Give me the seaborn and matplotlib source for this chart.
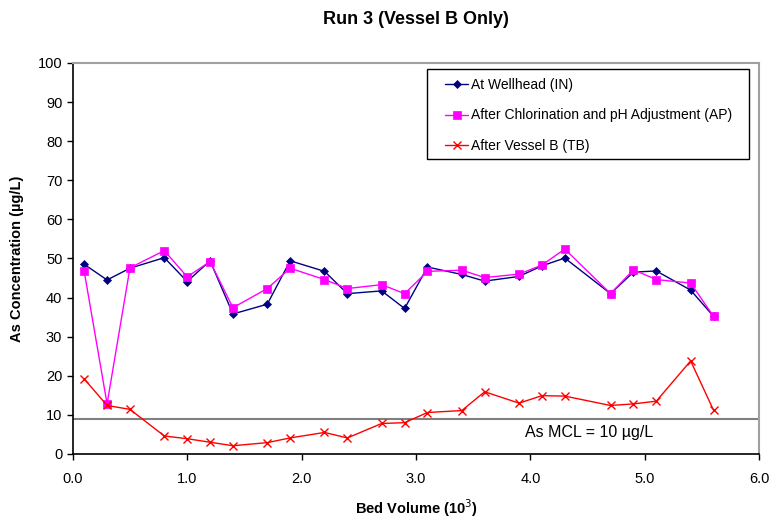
import matplotlib
matplotlib.use("Agg")
import matplotlib.pyplot as plt
from matplotlib.patches import Rectangle
import seaborn as sns
import pandas as pd

# ===================== DATOS =====================

bed_volume = [0.1, 0.3, 0.5, 0.8, 1.0, 1.2, 1.4, 1.7, 1.9, 2.2, 2.4, 2.7,
              2.9, 3.1, 3.4, 3.6, 3.9, 4.1, 4.3, 4.7, 4.9, 5.1, 5.4, 5.6]

wellhead_in = [48.5, 44.5, 47.5, 50.2, 44.1, 49.4, 35.8, 38.3, 49.4, 46.7, 41.0, 41.7,
               37.2, 47.8, 45.9, 44.2, 45.4, 48.1, 50.1, 41.0, 46.5, 46.8, 41.9, 35.2]

after_ap = [46.7, 12.8, 47.6, 52.0, 45.3, 49.2, 37.4, 42.3, 47.5, 44.6, 42.3, 43.3,
            41.0, 46.7, 47.0, 45.1, 46.0, 48.3, 52.4, 41.0, 47.1, 44.6, 43.7, 35.2]

after_tb = [19.2, 12.4, 11.4, 4.6, 3.9, 3.0, 2.1, 2.9, 4.1, 5.5, 4.1, 7.8,
            8.0, 10.6, 11.1, 15.9, 13.0, 14.9, 14.8, 12.4, 12.8, 13.5, 23.8, 11.2]

series_names = [
    "At Wellhead (IN)",
    "After Chlorination and pH Adjustment (AP)",
    "After Vessel B (TB)",
]

mcl_level = 9
mcl_label = "As MCL = 10 \u00b5g/L"

# ===================== GRÁFICO =====================

sns.set_style("ticks")
plt.rcParams["font.family"] = ["Liberation Sans", "DejaVu Sans"]
plt.rcParams["text.color"] = "black"
plt.rcParams["axes.labelcolor"] = "black"

fig = plt.figure(figsize=(7.74, 5.2), dpi=100)
ax = fig.add_axes([0.094, 0.127, 0.887, 0.752])

styles = [
    dict(color="#000080", marker="D", markersize=4.5, mew=0.5),
    dict(color="#FF00FF", marker="s", markersize=6, mew=0.5),
    dict(color="#FF0000", marker="x", markersize=5.5, mew=1),
]

for name, values, st in zip(series_names, [wellhead_in, after_ap, after_tb], styles):
    df = pd.DataFrame({"x": bed_volume, "y": values})
    sns.lineplot(
        data=df, x="x", y="y", ax=ax,
        color=st["color"], marker=st["marker"], markersize=st["markersize"],
        markeredgecolor=st["color"], markeredgewidth=st["mew"],
        linewidth=1, label=name, sort=False,
    )

ax.axhline(mcl_level, color="#808080", linewidth=1.5, zorder=1)
ax.text(3.95, 5.6, mcl_label, fontsize=11.5, va="center", ha="left")

ax.set_xlim(0, 6)
ax.set_ylim(0, 100)
ax.set_xticks([0, 1, 2, 3, 4, 5, 6])
ax.set_xticklabels(["0.0", "1.0", "2.0", "3.0", "4.0", "5.0", "6.0"])
ax.set_yticks(range(0, 101, 10))
ax.tick_params(labelsize=10.5, direction="out", length=4, width=1, colors="black")
ax.tick_params(axis="x", pad=9)

for side in ["top", "right"]:
    ax.spines[side].set_visible(True)
    ax.spines[side].set_color("#A0A0A0")
    ax.spines[side].set_linewidth(1.5)
for side in ["left", "bottom"]:
    ax.spines[side].set_color("black")
    ax.spines[side].set_linewidth(1.2)

ax.set_xlabel("Bed Volume (10$^3$)", fontsize=10.5, fontweight="bold", labelpad=8)
ax.set_ylabel("As Concentration (\u00b5g/L)", fontsize=10.5, fontweight="bold", labelpad=10)
ax.set_title("Run 3 (Vessel B Only)", fontsize=13, fontweight="bold", pad=28)

# Caja de la leyenda (más margen horizontal que vertical, como en el original)
ax.add_patch(Rectangle(
    (0.516, 0.754), 0.469, 0.230, transform=ax.transAxes,
    facecolor="white", edgecolor="black", linewidth=1, zorder=4.5,
))

leg = ax.legend(
    loc="upper left", bbox_to_anchor=(0.542, 0.962), borderaxespad=0,
    fontsize=10, frameon=False, handlelength=1.7, labelspacing=1.2,
    borderpad=0, handletextpad=0.2,
)

fig.savefig("out.png", dpi=100)
